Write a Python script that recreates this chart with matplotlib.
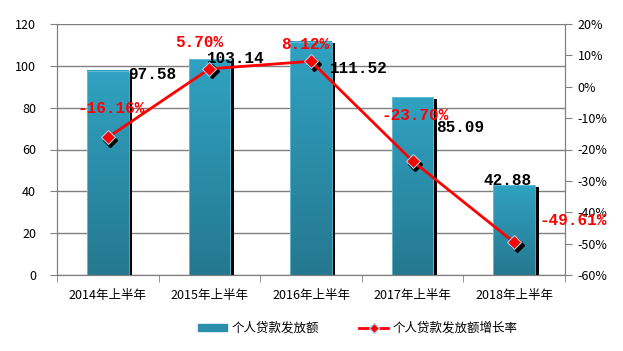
import matplotlib
matplotlib.use("Agg")
import matplotlib.pyplot as plt
import matplotlib.transforms as mtransforms
import numpy as np
from matplotlib.lines import Line2D
from matplotlib.patches import Patch
from matplotlib.ticker import FuncFormatter, FixedLocator
from matplotlib.colors import LinearSegmentedColormap

plt.rcParams['font.family'] = ['Noto Sans CJK SC', 'DejaVu Sans']

categories = ["2014年上半年", "2015年上半年", "2016年上半年", "2017年上半年", "2018年上半年"]
loan_amount = [97.58, 103.14, 111.52, 85.09, 42.88]
growth_rate = [-16.16, 5.70, 8.12, -23.70, -49.61]
bar_name = "个人贷款发放额"
line_name = "个人贷款发放额增长率"

# label offsets in pixels (layout)
bar_label_off = [(20, -4), (-2, 1), (19, -27), (24, -30), (-31, 5)]
line_label_off = [(3, 29), (-10, 26), (-6, 17), (3, 46), (59, 22)]

fig = plt.figure(figsize=(6.23, 3.51), dpi=100)
ax = fig.add_axes([57/623, 1-275/351, (565-57)/623, (275-24)/351])
ax2 = ax.twinx()

x = np.arange(len(categories))
width = 0.41
grid_c = "#808080"

ax.set_ylim(0, 120)
ax.set_yticks([0, 20, 40, 60, 80, 100, 120])
ax.yaxis.grid(True, color=grid_c, linewidth=1)
ax.set_axisbelow(True)

# shadow bars
ax.bar(x + 0.035, np.array(loan_amount) - 0.8, width=width, color="black", zorder=1.5)
bars = ax.bar(x, loan_amount, width=width, color="#2b8fac", zorder=2)
# gradient fill (light at top, darker at bottom)
grad = np.linspace(0, 1, 256).reshape(-1, 1)
cmap = LinearSegmentedColormap.from_list("g", ["#25788f", "#30a2c2"])
for b in bars:
    x0, y0 = b.get_x(), b.get_y()
    w, h = b.get_width(), b.get_height()
    ax.imshow(grad, extent=[x0, x0 + w, y0, y0 + h], aspect="auto", cmap=cmap,
              origin="lower", zorder=2.1)
    b.set_facecolor("none")
    b.set_edgecolor("#6fc0d6")
    b.set_linewidth(0.6)
    b.set_zorder(2.2)
ax.set_xlim(-0.5, len(categories) - 0.5)
ax.set_ylim(0, 120)

ax2.set_ylim(-60, 20)
ax2.set_yticks(np.arange(-60, 21, 10))
ax2.yaxis.set_major_formatter(FuncFormatter(lambda v, p: f"{int(round(v))}%"))

# marker shadow
shadow = mtransforms.offset_copy(ax2.transData, fig=fig, x=2.5, y=-2.5, units="dots")
ax2.plot(x, growth_rate, linestyle="none", marker="D", markersize=7.5,
         color="black", transform=shadow, zorder=3)
ax2.plot(x, growth_rate, color="#ff0000", linewidth=2, marker="D", markersize=7.5,
         markerfacecolor="#ff0000", markeredgecolor="#9fd3ea", markeredgewidth=0.8, zorder=4)

mono = ["Liberation Mono", "DejaVu Sans Mono"]
for i, v in enumerate(loan_amount):
    dx, dy = bar_label_off[i]
    ax.annotate(f"{v:.2f}", (x[i], v), xytext=(dx, dy), textcoords="offset pixels",
                ha="left", va="center", fontsize=11.5, family=mono, fontweight="bold",
                color="black", zorder=6, annotation_clip=False)
for i, v in enumerate(growth_rate):
    dx, dy = line_label_off[i]
    ax2.annotate(f"{v:.2f}%", (x[i], v), xytext=(dx, dy), textcoords="offset pixels",
                 ha="center", va="center", fontsize=11.5, family=mono, fontweight="bold",
                 color="#ff0000", zorder=6, annotation_clip=False)

# axes styling
for a in (ax, ax2):
    for s in a.spines.values():
        s.set_color(grid_c)
    a.spines["top"].set_visible(False)
ax.tick_params(axis="y", colors=grid_c, labelcolor="black", labelsize=9, length=5, pad=10)
ax2.tick_params(axis="y", colors=grid_c, labelcolor="black", labelsize=9, length=5, pad=4)
ax.set_xticks(x)
ax.set_xticklabels(categories)
ax.tick_params(axis="x", which="major", length=0, labelsize=9, pad=10)
ax.xaxis.set_minor_locator(FixedLocator(np.arange(-0.5, len(categories), 1.0)))
ax.tick_params(axis="x", which="minor", length=5, color=grid_c)

handles = [Patch(facecolor="#2b8fac", edgecolor="#2b8fac"),
           Line2D([0], [0], color="#ff0000", linewidth=2, marker="D", markersize=5,
                  markerfacecolor="#ff0000", markeredgecolor="#9fd3ea")]
fig.legend(handles, [bar_name, line_name], loc="center", bbox_to_anchor=(358/623, 1-328/351),
           ncol=2, frameon=False, fontsize=9, handlelength=2.3, handleheight=0.5,
           columnspacing=3.2, handletextpad=0.4)

fig.savefig("out.png", dpi=100)
